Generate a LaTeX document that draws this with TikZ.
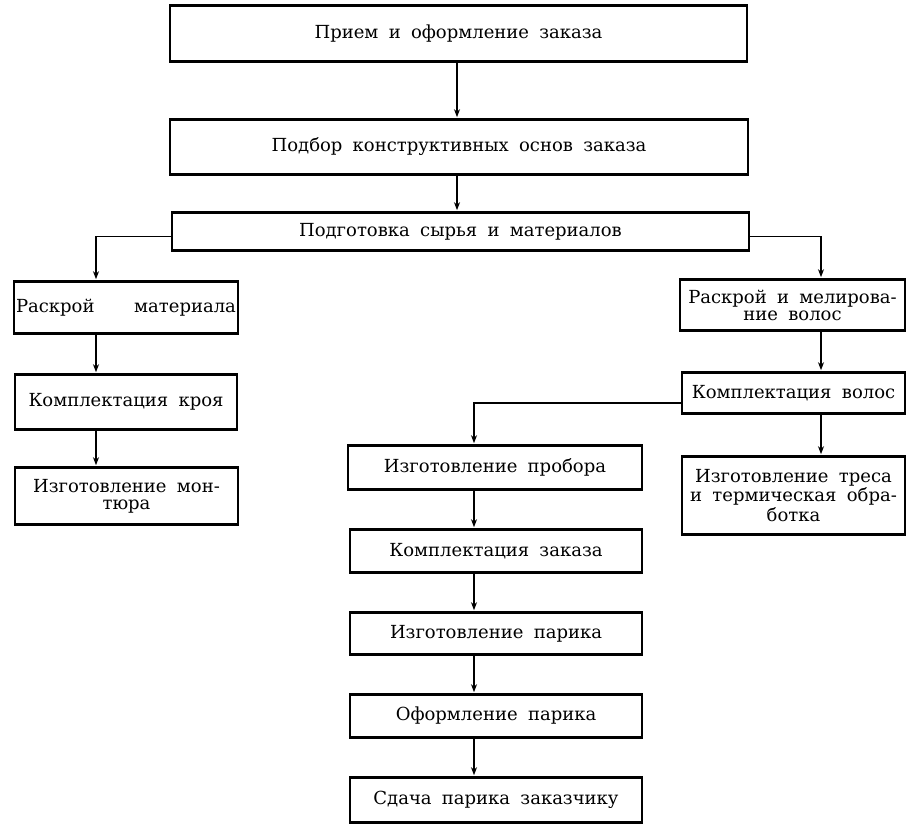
\documentclass[tikz,border=0pt]{standalone}
\usepackage{fontspec}
\setmainfont[WordSpace=1.8]{DejaVu Serif}
\usetikzlibrary{arrows.meta}
\tikzset{
stage/.style={shape=rectangle, draw, line width=0.8pt, align=center, inner sep=1pt, font=\fontsize{9}{8.5}\selectfont},
link/.style={-{Stealth[length=4pt, width=3pt]}, line width=0.7pt, shorten >=1pt}}

\begin{document}
\begin{tikzpicture}[x=0.5pt, y=-0.5pt]
\useasboundingbox (0,0) rectangle (921,833);
\coordinate (mx) at (457,0);
\coordinate (lx) at (96,0);
\coordinate (cx) at (474,0);
\coordinate (rx) at (821,0);
% main line
\node [stage, minimum width=288.5pt, minimum height=27.5pt] at (458.5, 33.5) (priem) {Прием и оформление заказа};
\node [stage, minimum width=289pt, minimum height=27pt] at (459, 147) (podbor) {Подбор конструктивных основ заказа};
\node [stage, minimum width=288.5pt, minimum height=18.5pt] at (460.5, 231.5) (syrye) {Подготовка сырья и материалов};
% left column
\node [stage, minimum width=111pt, minimum height=25.5pt] at (126, 307.5) (raskroy) {Раскрой\hspace{2.2em}материала};
\node [stage, minimum width=111pt, minimum height=27pt] at (126, 402) (kroy) {Комплектация кроя};
\node [stage, minimum width=111.5pt, minimum height=28pt] at (126.5, 496) (montur) {Изготовление мон-\\тюра};
% right column
\node [stage, minimum width=112.5pt, minimum height=25pt] at (792.5, 305) (melir) {Раскрой и мелирова-\\ние волос};
\node [stage, minimum width=111.5pt, minimum height=20pt] at (793.5, 393) (volos) {Комплектация волос};
\node [stage, minimum width=111.5pt, minimum height=38.5pt] at (793.5, 495.5) (tres) {Изготовление треса\\и термическая обра-\\ботка};
% centre column
\node [stage, minimum width=147pt, minimum height=21.5pt] at (495, 467.5) (probor) {Изготовление пробора};
\node [stage, minimum width=146pt, minimum height=21pt] at (496, 551) (komplekt) {Комплектация заказа};
\node [stage, minimum width=146pt, minimum height=20.5pt] at (496, 633.5) (izgot) {Изготовление парика};
\node [stage, minimum width=146pt, minimum height=21pt] at (496, 716) (oform) {Оформление парика};
\node [stage, minimum width=146pt, minimum height=22pt] at (496, 800) (sdacha) {Сдача парика заказчику};
% heavier top and bottom rules
\foreach \n in {priem, podbor, syrye, raskroy, kroy, montur, melir, volos, tres, probor, komplekt, izgot, oform, sdacha}
  \draw [line width=1.4pt] (\n.north west) -- (\n.north east) (\n.south west) -- (\n.south east);

\draw [link] (priem.south -| mx) -- (podbor.north -| mx);
\draw [link] (podbor.south -| mx) -- (syrye.north -| mx);
\draw [link] ([yshift=-2.5pt]syrye.west) -| (raskroy.north -| lx);
\draw [link] ([yshift=-2.5pt]syrye.east) -| (melir.north -| rx);
\draw [link] ([yshift=-5pt]volos.west) -| (probor.north -| cx);
\foreach \a/\b in {raskroy/kroy, kroy/montur}
  \draw [link] (\a.south -| lx) -- (\b.north -| lx);
\foreach \a/\b in {melir/volos, volos/tres}
  \draw [link] (\a.south -| rx) -- (\b.north -| rx);
\foreach \a/\b in {probor/komplekt, komplekt/izgot, izgot/oform, oform/sdacha}
  \draw [link] (\a.south -| cx) -- (\b.north -| cx);
\end{tikzpicture}
\end{document}
